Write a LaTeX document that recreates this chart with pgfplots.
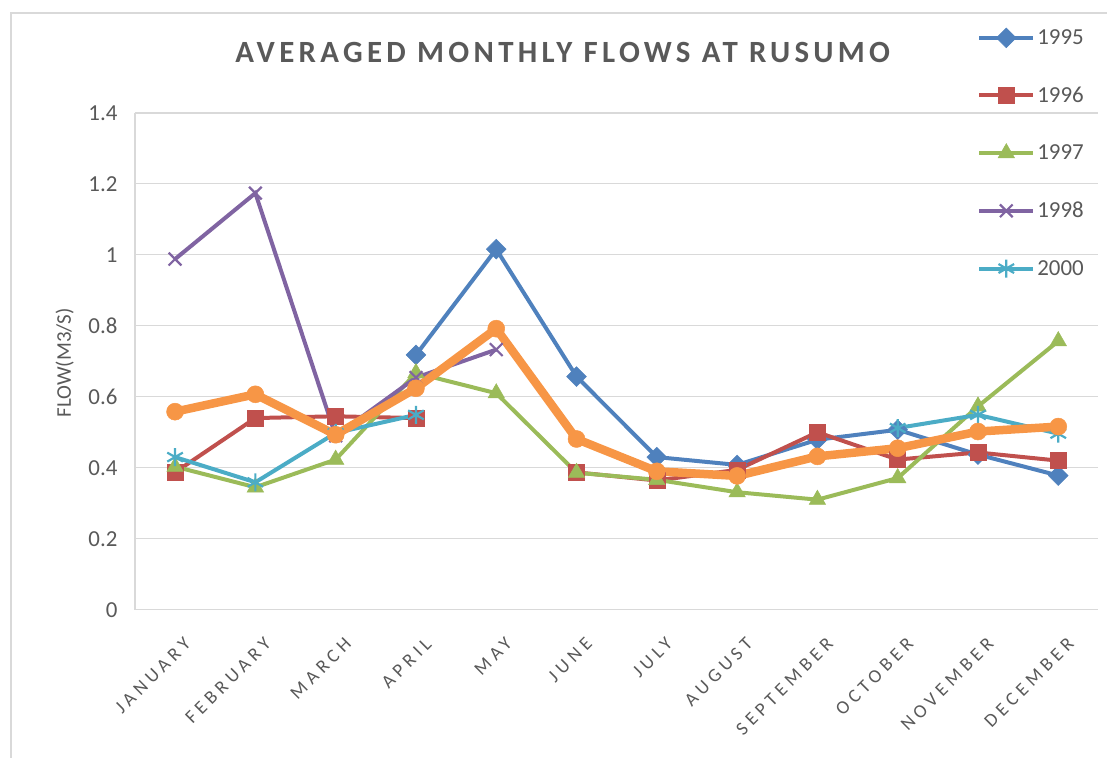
\documentclass[border=0pt]{standalone}
\usepackage{pgfplots}
\pgfplotsset{compat=1.18}
\usepackage{fontspec}
\setmainfont{Carlito}
\newfontfamily\titlefont[LetterSpace=14]{Carlito}
\newfontfamily\xlabfont[LetterSpace=24]{Carlito}
\definecolor{cA}{HTML}{4F81BD}
\definecolor{cB}{HTML}{C0504D}
\definecolor{cC}{HTML}{9BBB59}
\definecolor{cD}{HTML}{8064A2}
\definecolor{cE}{HTML}{4BACC6}
\definecolor{cF}{HTML}{F79646}
\definecolor{gridgray}{HTML}{D9D9D9}
\definecolor{tickgray}{HTML}{595959}
\begin{document}
\begin{tikzpicture}[x=1bp,y=1bp]
\path (0,0) rectangle (1108,758);
\draw[gridgray, line width=1.2bp] (11,0) -- (11,745) -- (1108,745);
\node[font=\titlefont\bfseries\fontsize{31}{36}\selectfont, text=tickgray] at (563,705) {AVERAGED MONTHLY FLOWS AT RUSUMO};
\begin{axis}[
  at={(135bp,148bp)}, anchor=south west,
  scale only axis, width=964bp, height=497bp,
  xmin=-0.5, xmax=11.5, ymin=0, ymax=1.4,
  axis lines=left,
  axis line style={-, draw=gridgray, line width=1.2bp},
  ymajorgrids, grid style={gridgray, line width=1.2bp},
  major tick length=0pt,
  ytick={0,0.2,0.4,0.6,0.8,1,1.2,1.4},
  xtick={0,1,2,3,4,5,6,7,8,9,10,11},
  xticklabels={JANUARY,FEBRUARY,MARCH,APRIL,MAY,JUNE,JULY,AUGUST,SEPTEMBER,OCTOBER,NOVEMBER,DECEMBER},
  xticklabel style={font=\xlabfont\fontsize{19}{22}\selectfont, text=tickgray, rotate=45, anchor=east, yshift=-31bp, xshift=-10bp},
  yticklabel style={font=\fontsize{23}{26}\selectfont, text=tickgray, xshift=-14bp},
  /pgf/number format/assume math mode=true,
  ylabel={FLOW(M3/S)},
  ylabel style={at={(axis description cs:-0.073,0.497)}, anchor=center, rotate=0, font=\fontsize{21}{24}\selectfont, text=tickgray},
  unbounded coords=jump,
  clip=false,
  legend style={at={(0.871,1.176)}, anchor=north west, draw=none, fill=none,
    font=\fontsize{23}{26}\selectfont, text=tickgray, row sep=37bp},
  legend cell align=left,
  legend image code/.code={\draw[mark repeat=2,mark phase=2,#1] plot coordinates {(0bp,0bp) (27bp,0bp) (54bp,0bp)};},
]
\addplot[cA, line width=4bp, mark=square*, mark size=7bp, mark options={solid, rotate=45, line width=0.5bp}]
 coordinates {(0,nan)(1,nan)(2,nan)(3,0.718)(4,1.016)(5,0.657)(6,0.430)(7,0.408)(8,0.479)(9,0.507)(10,0.437)(11,0.378)};
\addlegendentry{1995}
\addplot[cB, line width=4bp, mark=square*, mark size=8bp, mark options={solid, line width=0.5bp}]
 coordinates {(0,0.387)(1,0.540)(2,0.545)(3,0.540)(4,nan)(5,0.387)(6,0.364)(7,0.394)(8,0.500)(9,0.423)(10,0.443)(11,0.420)};
\addlegendentry{1996}
\addplot[cC, line width=4bp, mark=triangle*, mark size=9.5bp, mark options={solid, line width=0.5bp}]
 coordinates {(0,0.403)(1,0.345)(2,0.423)(3,0.667)(4,0.610)(5,0.386)(6,0.366)(7,0.331)(8,0.310)(9,0.371)(10,0.573)(11,0.757)};
\addlegendentry{1997}
\addplot[cD, line width=4bp, mark=x, mark size=9bp, mark options={solid, line width=2.2bp}]
 coordinates {(0,0.988)(1,1.174)(2,0.490)(3,0.654)(4,0.733)};
\addlegendentry{1998}
\addplot[cE, line width=4bp, mark=asterisk, mark size=9bp, mark options={solid, line width=2.2bp}]
 coordinates {(0,0.430)(1,0.359)(2,0.498)(3,0.549)(4,nan)(5,nan)(6,nan)(7,nan)(8,nan)(9,0.512)(10,0.549)(11,0.496)};
\addlegendentry{2000}
\addplot[cF, line width=8.5bp, mark=*, mark size=8.5bp, mark options={solid, line width=0.5bp}, forget plot]
 coordinates {(0,0.558)(1,0.607)(2,0.493)(3,0.624)(4,0.792)(5,0.481)(6,0.390)(7,0.377)(8,0.432)(9,0.455)(10,0.502)(11,0.516)};
\end{axis}
\end{tikzpicture}
\end{document}
